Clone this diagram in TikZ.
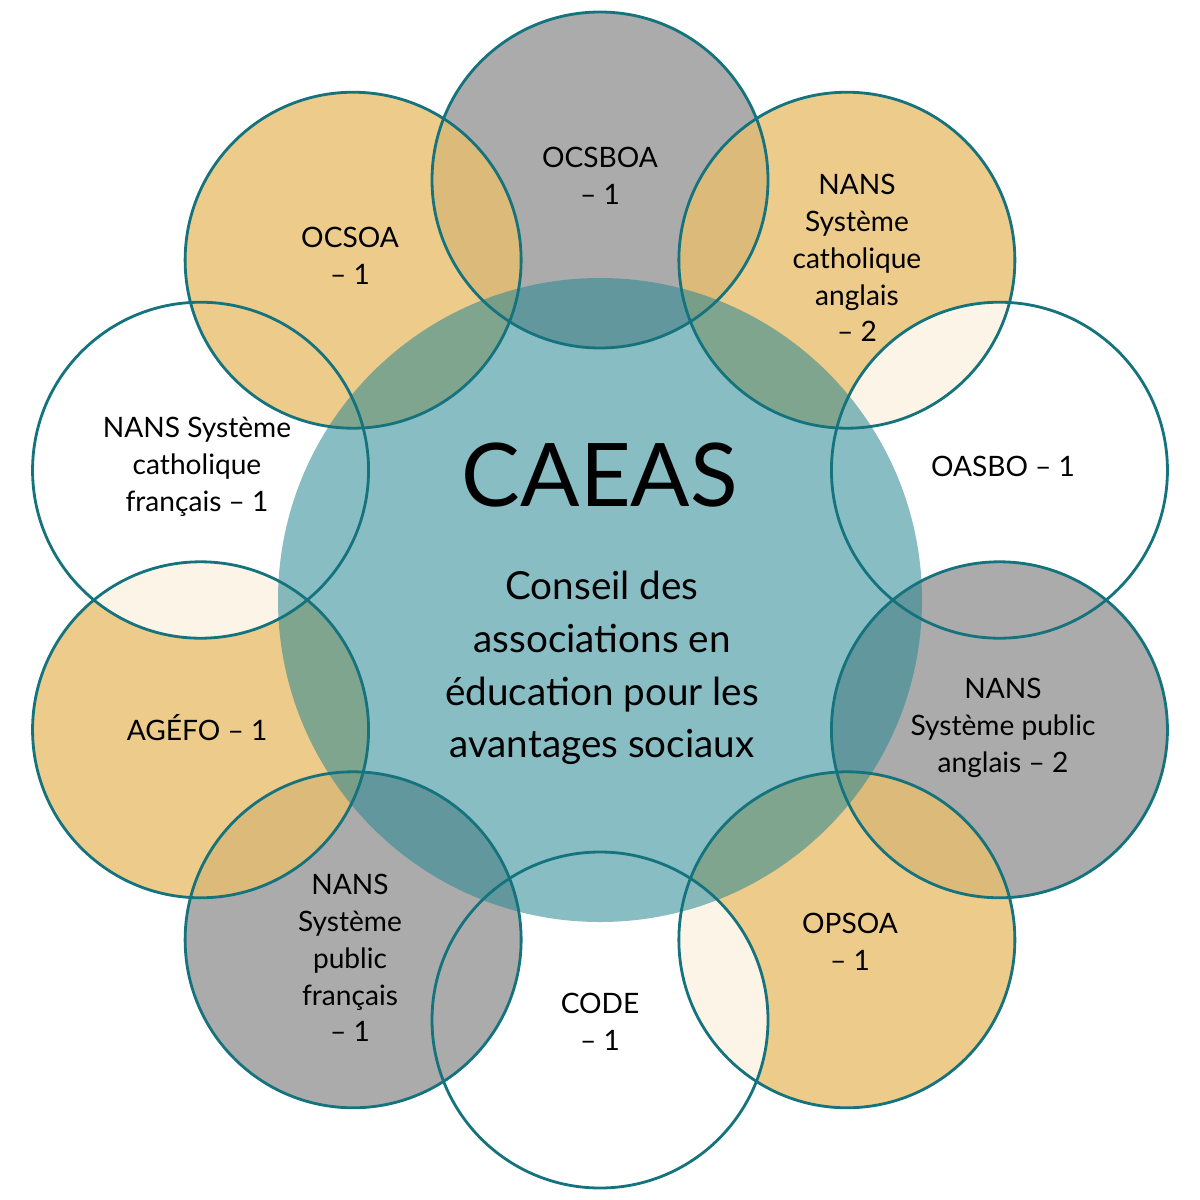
\documentclass[tikz,border=0pt]{standalone}
\usepackage{fontspec}
\setmainfont{Lato}
\definecolor{ringc}{RGB}{20,115,125}
\definecolor{tanc}{RGB}{232,190,110}
\definecolor{greyc}{RGB}{150,150,150}
\definecolor{tealc}{RGB}{40,135,148}
\begin{document}
\begin{tikzpicture}[x=0.02cm,y=-0.02cm,
  outer/.style={draw=none,fill opacity=0.8},
  ring/.style={draw=ringc,line width=1.6pt},
  lbl/.style={align=center,font=\fontsize{16}{21}\selectfont},
  tan/.style={fill=tanc},
  grey/.style={fill=greyc},
  wht/.style={fill=white}]
\useasboundingbox (0,0) rectangle (1200,1200);
\fill[white] (0,0) rectangle (1200,1200);
\foreach \a/\s in {90/grey,54/tan,18/wht,-18/grey,-54/tan,-90/wht,-126/grey,-162/tan,162/wht,126/tan}{
  \fill[\s,outer] ({600+420*cos(\a)},{600-420*sin(\a)}) circle (168);
}
\fill[tealc,fill opacity=0.55] (600,600) circle (322);
\foreach \a in {90,54,18,-18,-54,-90,-126,-162,162,126}{
  \draw[ring] ({600+420*cos(\a)},{600-420*sin(\a)}) circle (168);
}
\node (caeas) at (600,475) {\fontsize{50}{50}\selectfont CAEAS};
\node[align=center,font=\fontsize{22}{30}\selectfont] (cdesc) at (602,668) {Conseil des\\associations en\\éducation pour les\\avantages sociaux};
\node[lbl] (n1) at (600,176) {OCSBOA\\– 1};
\node[lbl] (n2) at (857,258) {NANS\\Système\\catholique\\anglais\\– 2};
\node[lbl] (n3) at (1003,466) {OASBO – 1};
\node[lbl] (n4) at (1003,728) {NANS\\Système public\\anglais – 2};
\node[lbl] (n5) at (850,942) {OPSOA\\– 1};
\node[lbl] (n6) at (600,1022) {CODE\\– 1};
\node[lbl] (n7) at (350,958) {NANS\\Système\\public\\français\\– 1};
\node[lbl] (n8) at (197,728) {AGÉFO – 1};
\node[lbl] (n9) at (197,467) {NANS Système\\catholique\\français – 1};
\node[lbl] (n10) at (350,256) {OCSOA\\– 1};
\end{tikzpicture}
\end{document}
